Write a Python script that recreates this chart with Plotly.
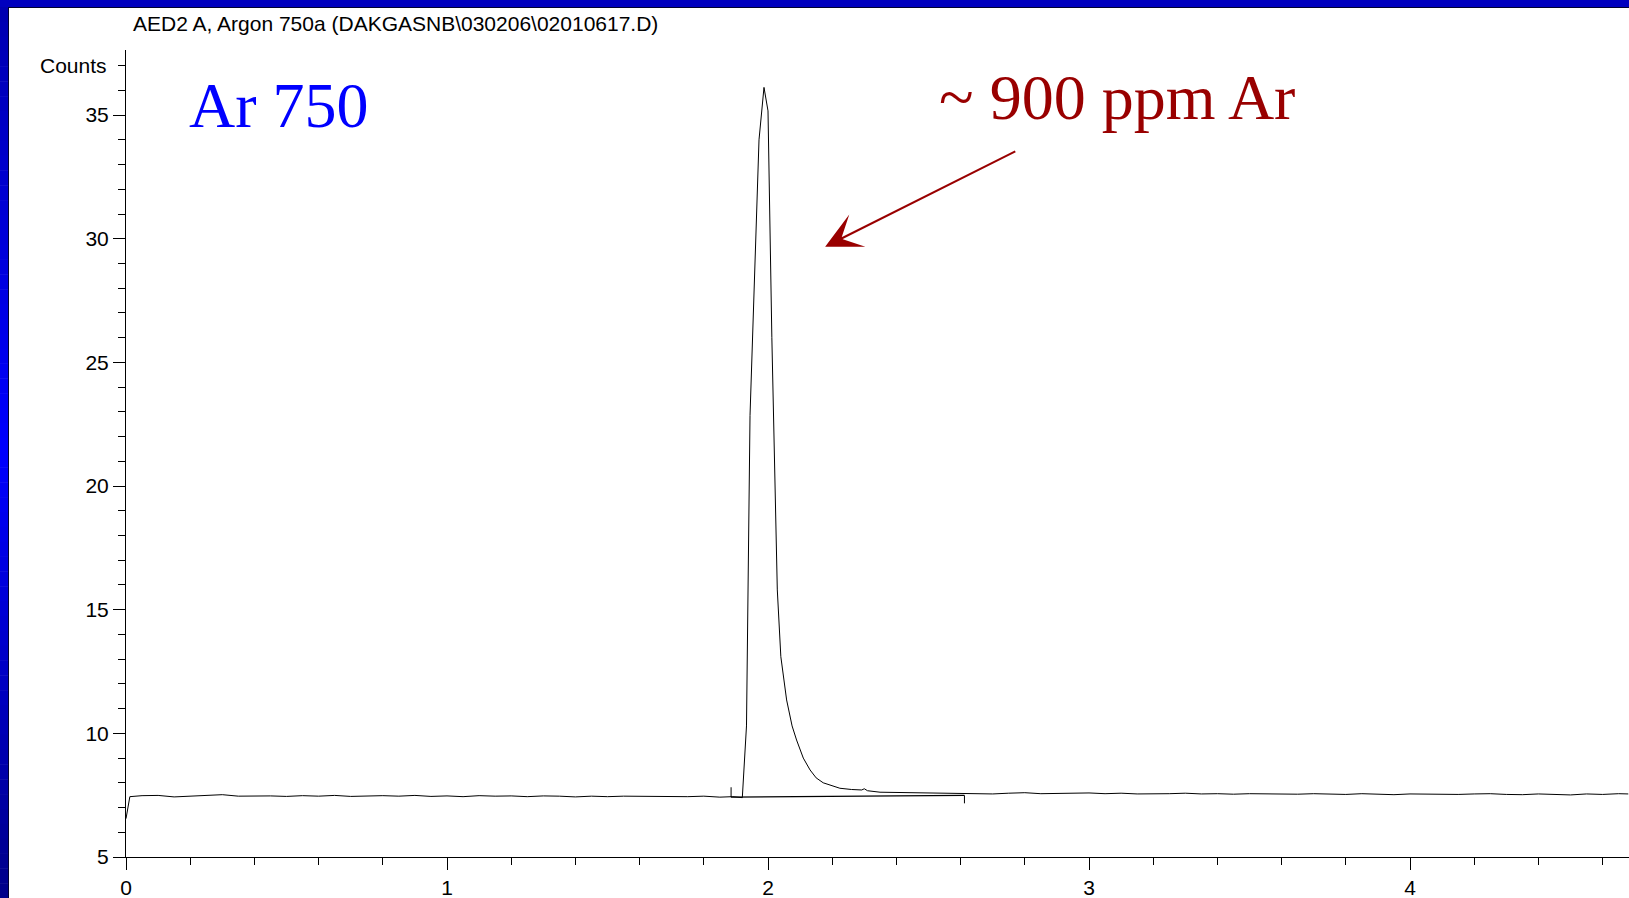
import plotly.graph_objects as go

# ---- chromatogram signal (time in min, detector counts) ----
pre_time = [0.0, 0.012, 0.05, 0.10, 0.15, 0.20, 0.25, 0.30, 0.35, 0.40, 0.45, 0.50,
            0.55, 0.60, 0.65, 0.70, 0.75, 0.80, 0.85, 0.90, 0.95, 1.00, 1.05, 1.10,
            1.15, 1.20, 1.25, 1.30, 1.35, 1.40, 1.45, 1.50, 1.55, 1.60, 1.65, 1.70,
            1.75, 1.80, 1.85, 1.89, 1.905]
pre_counts = [6.55, 7.44, 7.48, 7.49, 7.43, 7.47, 7.48, 7.52, 7.46, 7.48, 7.47, 7.45,
              7.48, 7.46, 7.49, 7.45, 7.47, 7.48, 7.46, 7.49, 7.45, 7.47, 7.44, 7.48,
              7.46, 7.47, 7.44, 7.47, 7.46, 7.43, 7.46, 7.44, 7.46, 7.45, 7.43, 7.45,
              7.44, 7.46, 7.42, 7.44, 7.41]

peak_time = [1.920, 1.933, 1.944, 1.972, 1.9875, 2.000, 2.012, 2.029, 2.040, 2.058,
             2.075, 2.089, 2.110, 2.131, 2.150, 2.172, 2.200, 2.224, 2.260, 2.292,
             2.300, 2.310, 2.349, 2.400, 2.453, 2.500, 2.550, 2.608]
peak_counts = [7.40, 10.3, 22.85, 34.0, 36.12, 35.17, 26.0, 15.8, 13.1, 11.35,
               10.3, 9.73, 9.0, 8.52, 8.2, 8.0, 7.88, 7.78, 7.73, 7.71,
               7.76, 7.68, 7.62, 7.61, 7.60, 7.58, 7.59, 7.55]

post_time = [2.65, 2.70, 2.75, 2.80, 2.85, 2.90, 2.95, 3.00, 3.05, 3.10, 3.15, 3.20,
             3.25, 3.30, 3.35, 3.40, 3.45, 3.50, 3.55, 3.60, 3.65, 3.70, 3.75, 3.80,
             3.85, 3.90, 3.95, 4.00, 4.05, 4.10, 4.15, 4.20, 4.25, 4.30, 4.35, 4.40,
             4.45, 4.50, 4.55, 4.60, 4.65, 4.68]
post_counts = [7.57, 7.55, 7.58, 7.60, 7.56, 7.58, 7.57, 7.59, 7.56, 7.58, 7.55, 7.57,
               7.56, 7.58, 7.55, 7.56, 7.54, 7.56, 7.55, 7.57, 7.54, 7.56, 7.55, 7.53,
               7.56, 7.54, 7.52, 7.55, 7.54, 7.56, 7.53, 7.55, 7.56, 7.53, 7.52, 7.55,
               7.53, 7.51, 7.55, 7.53, 7.56, 7.55]

# integration baseline drawn under the peak, with its start/end markers
integ_time = [1.885, 2.612]
integ_counts = [7.42, 7.49]
start_marker_counts = [7.42, 7.82]
end_marker_counts = [7.49, 7.17]

x_major = [0, 1, 2, 3, 4]
y_major = [5, 10, 15, 20, 25, 30, 35]

time = pre_time + peak_time + post_time
counts = pre_counts + peak_counts + post_counts

# ---- geometry (pixels) ----
W, H = 1629, 898
ML, MR, MT, MB = 126, 0, 50, 41
PW, PH = W - ML - MR, H - MT - MB
X_RANGE = [0, PW / 321.0]
Y_RANGE = [5, 5 + PH / 24.73]


def px(x):
    return (x - ML) / PW


def py(y):
    return (H - MB - y) / PH


fig = go.Figure()
fig.add_trace(go.Scatter(x=time, y=counts, mode="lines",
                         line=dict(color="black", width=1), hoverinfo="skip"))
fig.add_trace(go.Scatter(x=integ_time, y=integ_counts, mode="lines",
                         line=dict(color="black", width=1.2), hoverinfo="skip"))
fig.add_trace(go.Scatter(x=[integ_time[0]] * 2, y=start_marker_counts, mode="lines",
                         line=dict(color="black", width=1), hoverinfo="skip"))
fig.add_trace(go.Scatter(x=[integ_time[1]] * 2, y=end_marker_counts, mode="lines",
                         line=dict(color="black", width=1), hoverinfo="skip"))

SANS = "Liberation Sans, Arial, sans-serif"
SERIF = "Liberation Serif, Times New Roman, serif"
axis_font = dict(family=SANS, size=21, color="black")

fig.update_xaxes(range=X_RANGE, automargin=False, showgrid=False, zeroline=False,
                 showline=True, linecolor="black", linewidth=1, ticks="outside",
                 ticklen=12, tickwidth=1, tickcolor="black", tickvals=x_major,
                 tickfont=axis_font,
                 minor=dict(ticks="outside", ticklen=7, tickwidth=1, tickcolor="black",
                            tick0=0, dtick=0.2, showgrid=False))
fig.update_yaxes(range=Y_RANGE, automargin=False, showgrid=False, zeroline=False,
                 showline=True, linecolor="black", linewidth=1, ticks="outside",
                 ticklen=12, tickwidth=1, tickcolor="black", tickvals=y_major,
                 tickfont=axis_font,
                 minor=dict(ticks="outside", ticklen=7, tickwidth=1, tickcolor="black",
                            tick0=5, dtick=1, showgrid=False))

# ---- blue slide frame (top strip + vertical gradient strip on the left) ----
shapes = []
shapes.append(dict(type="rect", xref="paper", yref="paper", x0=px(0), x1=px(W),
                   y0=py(0), y1=py(7), fillcolor="#0000bf", line=dict(width=0),
                   layer="above"))
top_rgb, mid_rgb, bot_rgb = (0, 0, 176), (0, 0, 255), (0, 0, 136)
n_strips = 60
for i in range(n_strips):
    f = (i + 0.5) / n_strips
    if f < 0.5:
        a, b, t = top_rgb, mid_rgb, f / 0.5
    else:
        a, b, t = mid_rgb, bot_rgb, (f - 0.5) / 0.5
    c = tuple(round(a[k] + (b[k] - a[k]) * t) for k in range(3))
    y0 = 7 + (H - 7) * i / n_strips
    y1 = 7 + (H - 7) * (i + 1) / n_strips + 0.5
    shapes.append(dict(type="rect", xref="paper", yref="paper", x0=px(0), x1=px(8),
                       y0=py(y0), y1=py(y1), fillcolor="rgb(%d,%d,%d)" % c,
                       line=dict(width=0), layer="above"))
shapes.append(dict(type="line", xref="paper", yref="paper", x0=px(8), x1=px(W),
                   y0=py(7.5), y1=py(7.5), line=dict(color="#000030", width=1),
                   layer="above"))
shapes.append(dict(type="line", xref="paper", yref="paper", x0=px(8.5), x1=px(8.5),
                   y0=py(7), y1=py(H), line=dict(color="#000030", width=1),
                   layer="above"))

annotations = [
    dict(text="AED2 A, Argon 750a (DAKGASNB\\030206\\02010617.D)", xref="paper",
         yref="paper", x=px(131), y=py(23), xanchor="left", yanchor="middle",
         showarrow=False, font=dict(family=SANS, size=21, color="black")),
    dict(text="Counts", xref="paper", yref="y", x=0, y=37, xanchor="right",
         yanchor="middle", xshift=-17, showarrow=False, font=axis_font),
    dict(text="Ar 750", xref="paper", yref="paper", x=px(187), y=py(106),
         xanchor="left", yanchor="middle", showarrow=False,
         font=dict(family=SERIF, size=64, color="#0000ff")),
    dict(text="~ 900 ppm Ar", xref="paper", yref="paper", x=px(937), y=py(98),
         xanchor="left", yanchor="middle", showarrow=False,
         font=dict(family=SERIF, size=64, color="#990000")),
    dict(text="", x=2.178, y=29.68, ax=2.775, ay=33.56, xref="x", yref="y",
         axref="x", ayref="y", showarrow=True, arrowhead=3, arrowsize=3,
         arrowwidth=2, arrowcolor="#990000", standoff=0),
]

fig.update_layout(width=W, height=H, autosize=False,
                  margin=dict(l=ML, r=MR, t=MT, b=MB, pad=0),
                  paper_bgcolor="white", plot_bgcolor="white", showlegend=False,
                  shapes=shapes, annotations=annotations)

fig.write_html("out.html", config={"displayModeBar": False})
